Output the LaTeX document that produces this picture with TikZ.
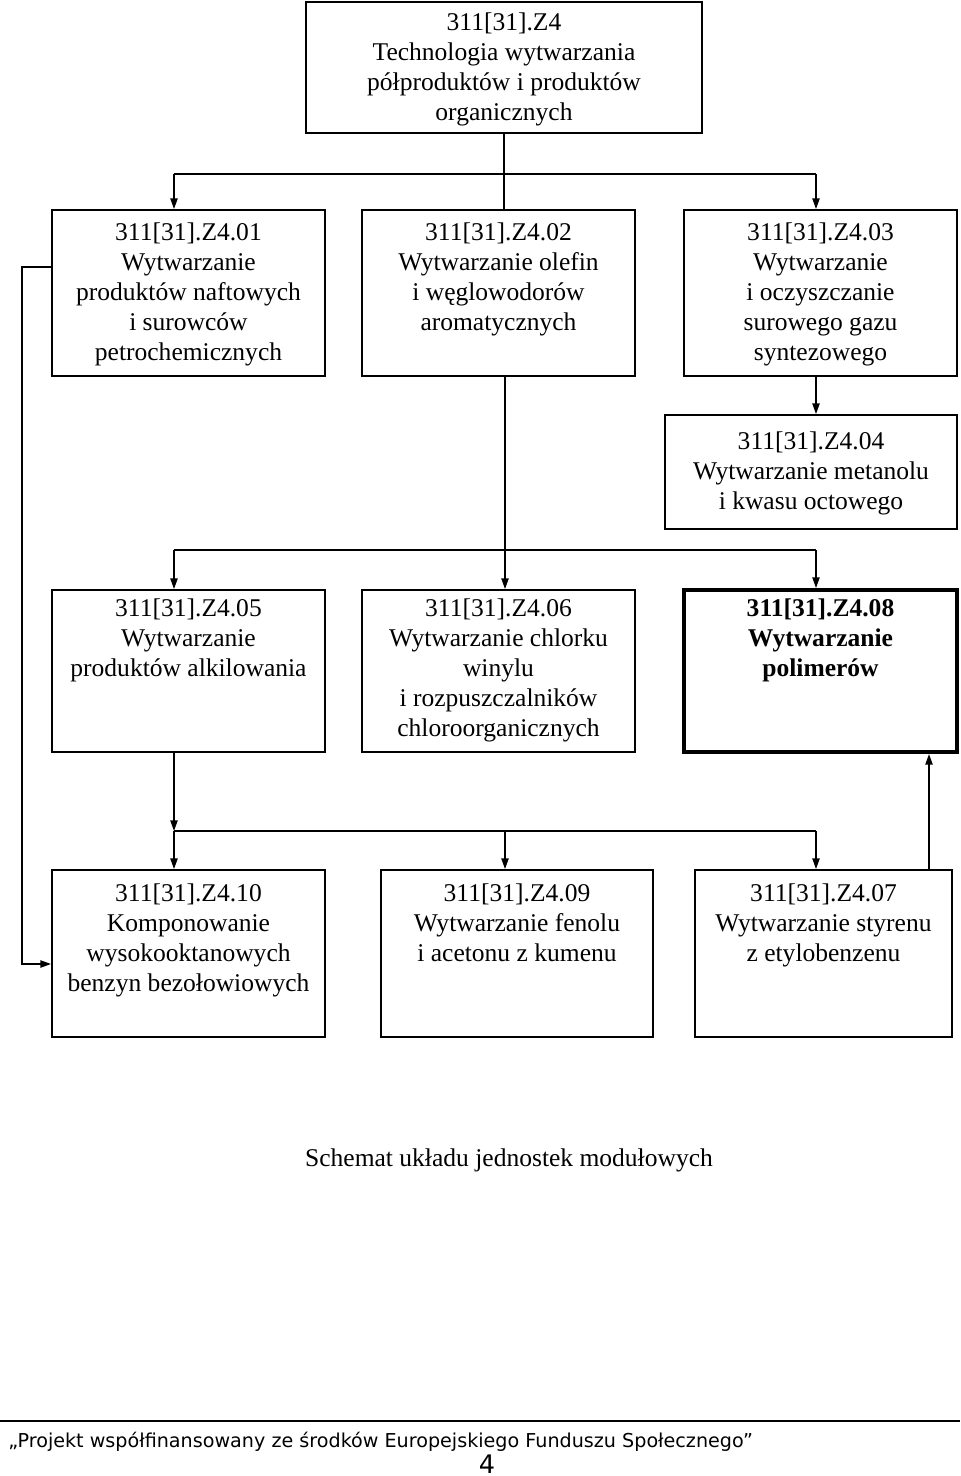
\documentclass[tikz,border=0pt]{standalone}
\usepackage{fontspec}
\setmainfont{Liberation Serif}
\newfontfamily\stopkafont{DejaVu Sans}
\usetikzlibrary{arrows.meta, positioning, fit}
\tikzset{
  x=0.47pt, y=-0.47pt,
  modul/.style={draw, line width=0.9pt, inner sep=0pt},
  modulgruby/.style={modul, line width=1.9pt},
  opis/.style={align=center, inner sep=0pt, font=\fontsize{12}{14.1}\selectfont},
  polacz/.style={line width=0.7pt},
  arr/.style={polacz, -{Triangle[length=5pt, width=3.4pt]}},
  stopka/.style={inner sep=0pt, font=\stopkafont\fontsize{9}{11}\selectfont}
}
\begin{document}
\begin{tikzpicture}
  \useasboundingbox (0,0) rectangle (960,1476);
  % ramki modulow
  \node[modul, fit={(306,2) (702,133)}] (z4) {};
  \node[modul, fit={(52,210) (325,376)}] (m01) {};
  \node[modul, fit={(362,210) (635,376)}] (m02) {};
  \node[modul, fit={(684,210) (957,376)}] (m03) {};
  \node[modul, fit={(665,415) (957,529)}] (m04) {};
  \node[modul, fit={(52,590) (325,752)}] (m05) {};
  \node[modul, fit={(362,590) (635,752)}] (m06) {};
  \node[modulgruby, fit={(684,590) (957,752)}] (m08) {};
  \node[modul, fit={(52,870) (325,1037)}] (m10) {};
  \node[modul, fit={(381,870) (653,1037)}] (m09) {};
  \node[modul, fit={(695,870) (952,1037)}] (m07) {};
  % opisy
  \node[opis, below=5.2pt of z4.north] (tz4) {311[31].Z4\\Technologia wytwarzania\\półproduktów i produktów\\organicznych};
  \node[opis, below=6.1pt of m01.north] (t01) {311[31].Z4.01\\Wytwarzanie\\produktów naftowych\\i surowców\\petrochemicznych};
  \node[opis, below=6.1pt of m02.north] (t02) {311[31].Z4.02\\Wytwarzanie olefin\\i węglowodorów\\aromatycznych};
  \node[opis, below=6.1pt of m03.north] (t03) {311[31].Z4.03\\Wytwarzanie\\i oczyszczanie\\surowego gazu\\syntezowego};
  \node[opis, below=8pt of m04.north] (t04) {311[31].Z4.04\\Wytwarzanie metanolu\\i kwasu octowego};
  \node[opis, below=4.2pt of m05.north] (t05) {311[31].Z4.05\\Wytwarzanie\\produktów alkilowania};
  \node[opis, below=4.2pt of m06.north] (t06) {311[31].Z4.06\\Wytwarzanie chlorku\\winylu\\i rozpuszczalników\\chloroorganicznych};
  \node[opis, font=\fontsize{12}{14.1}\selectfont\bfseries, below=4.7pt of m08.north] (t08) {311[31].Z4.08\\Wytwarzanie\\polimerów};
  \node[opis, below=6.6pt of m10.north] (t10) {311[31].Z4.10\\Komponowanie\\wysokooktanowych\\benzyn bezołowiowych};
  \node[opis, below=6.6pt of m09.north] (t09) {311[31].Z4.09\\Wytwarzanie fenolu\\i acetonu z kumenu};
  \node[opis, below=6.6pt of m07.north] (t07) {311[31].Z4.07\\Wytwarzanie styrenu\\z etylobenzenu};
  % punkty rozgalezien
  \coordinate (g1l) at (174,174);
  \coordinate (g1p) at (816,174);
  \coordinate (g2l) at (174,550);
  \coordinate (g2s) at (505,550);
  \coordinate (g2p) at (816,550);
  \coordinate (g3l) at (174,831);
  \coordinate (g3s) at (505,831);
  \coordinate (g3p) at (816,831);
  \coordinate (bok1) at (22,267);
  \coordinate (bok2) at (22,964);
  \coordinate (w07) at (929,870);
  % polaczenia
  \draw[polacz] (z4.south) -- (z4.south |- m02.north);
  \draw[polacz] (g1l) -- (g1p);
  \draw[arr] (g1l) -- (g1l |- m01.north);
  \draw[arr] (g1p) -- (g1p |- m03.north);
  \draw[arr] (g1p |- m03.south) -- (g1p |- m04.north);
  \draw[arr] (g2s |- m02.south) -- (g2s |- m06.north);
  \draw[polacz] (g2l) -- (g2p);
  \draw[arr] (g2l) -- (g2l |- m05.north);
  \draw[arr] (g2p) -- (g2p |- m08.north);
  \draw[arr] (g3l |- m05.south) -- (g3l);
  \draw[polacz] (g3l) -- (g3p);
  \draw[arr] (g3l) -- (g3l |- m10.north);
  \draw[arr] (g3s) -- (g3s |- m09.north);
  \draw[arr] (g3p) -- (g3p |- m07.north);
  \draw[arr] (w07) -- (w07 |- m08.south);
  \draw[arr] (bok1 -| m01.west) -- (bok1) -- (bok2) -- (bok2 -| m10.west);
  % podpis i stopka
  \node[opis] (podpis) at (509,1160) {Schemat układu jednostek modułowych};
  \draw[line width=1pt] (0,1421) -- (960,1421);
  \node[stopka, anchor=base west] (stopka) at (8,1447) {„Projekt współfinansowany ze środków Europejskiego Funduszu Społecznego”};
  \node[stopka, font=\stopkafont\fontsize{12}{14}\selectfont, anchor=base] (nr) at (487,1473) {4};
\end{tikzpicture}
\end{document}
